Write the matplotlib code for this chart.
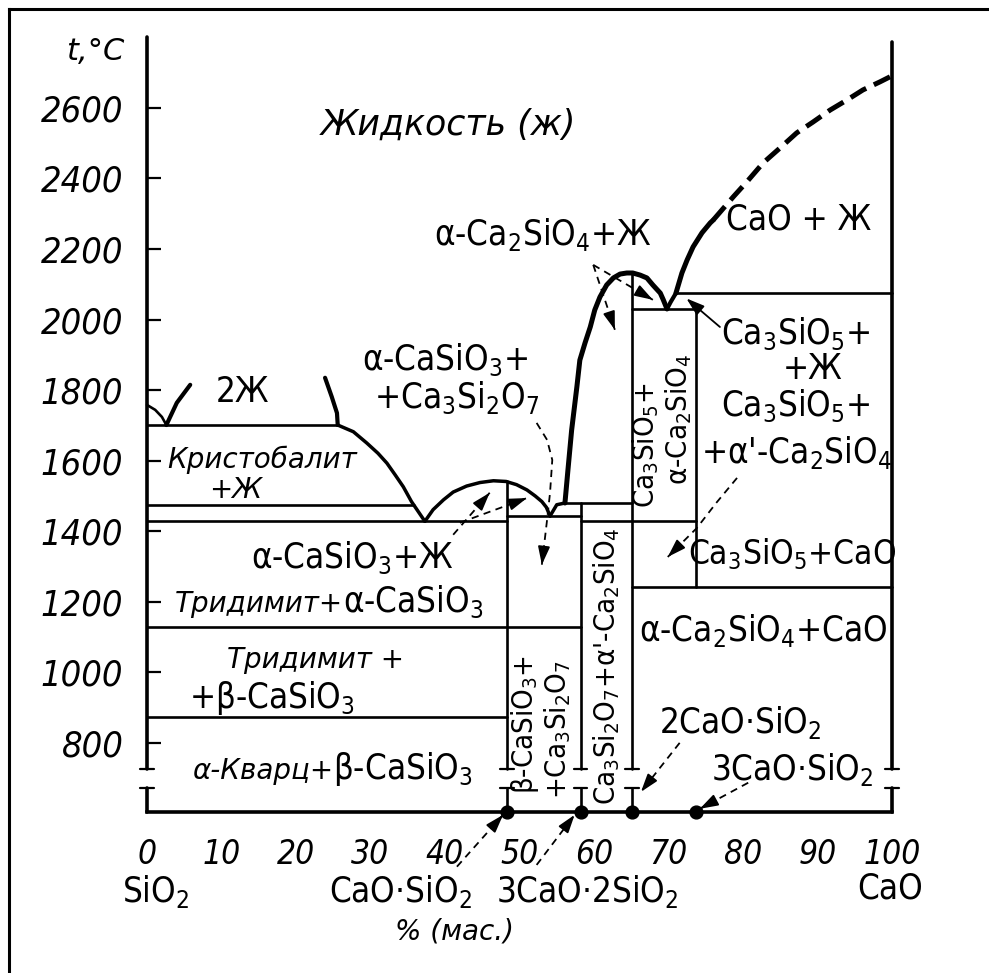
import os
import matplotlib.pyplot as plt
from matplotlib import font_manager
from matplotlib.font_manager import FontProperties
from matplotlib.lines import Line2D

# ---- data: x = % CaO (by mass), t = temperature, °C ----
# SiO2-side liquidus and the two-liquid dome
liq_sio2_x = [0, 1.1, 2.0, 2.6]
liq_sio2_t = [1758, 1744, 1724, 1701]
gap_left_x = [2.6, 4.0, 5.8]
gap_left_t = [1701, 1764, 1815]
gap_right_x = [23.9, 24.8, 25.5, 25.6]
gap_right_t = [1835, 1781, 1735, 1701]
# cristobalite liquidus
crist_x = [25.6, 27.7, 29.5, 31.0, 32.2, 33.3, 34.4, 35.5, 36.4, 37.3]
crist_t = [1701, 1682, 1650, 1621, 1593, 1560, 1526, 1484, 1456, 1428]
# CaSiO3 liquidus
cs_x = [37.3, 38.4, 39.8, 41.1, 42.9, 44.7, 46.5, 48.2, 49.6, 51.0, 52.1, 53.0, 53.6, 54.1]
cs_t = [1428, 1461, 1489, 1511, 1528, 1538, 1543, 1541, 1532, 1517, 1500, 1484, 1468, 1443]
# Ca3Si2O7 liquidus (short)
c3s2_x = [54.1, 55.0, 56.1]
c3s2_t = [1443, 1475, 1480]
# Ca2SiO4 liquidus
c2s_x = [56.1, 56.5, 57.0, 57.7, 58.1, 58.8, 59.5, 60.1, 60.8, 61.7, 62.6, 63.5,
         64.4, 65.2, 66.2, 67.1, 67.9, 68.9, 69.3, 69.8]
c2s_t = [1480, 1573, 1687, 1809, 1885, 1934, 1979, 2027, 2064, 2098, 2118, 2129,
         2132, 2132, 2126, 2118, 2098, 2075, 2056, 2030]
# Ca3SiO5 liquidus, CaO liquidus (solid + dashed part)
c3s_x = [69.8, 70.3, 71.0]
c3s_t = [2030, 2050, 2075]
cao_x = [71.0, 71.8, 72.5, 73.3, 74.5, 75.6, 76.0]
cao_t = [2075, 2132, 2169, 2206, 2246, 2274, 2282]
cao_dash_x = [76.0, 78.7, 80.5, 82.7, 85.0, 87.2, 89.4, 91.7, 94.0, 96.1, 98.4, 100]
cao_dash_t = [2282, 2348, 2390, 2444, 2487, 2529, 2560, 2594, 2623, 2651, 2674, 2691]

# horizontal lines (isotherms): temperature, from x, to x
iso_t = [1701, 1475, 1428, 1129, 874, 1443, 1480, 1428, 2030, 2075, 1242]
iso_from = [0, 0, 0, 0, 0, 48.3, 56.1, 58.2, 65.1, 71.0, 65.1]
iso_to = [25.6, 35.8, 48.3, 58.2, 48.3, 58.2, 65.1, 73.7, 73.7, 100, 100]

# compounds CaO·SiO2, 3CaO·2SiO2, 2CaO·SiO2, 3CaO·SiO2
comp_x = [48.3, 58.2, 65.1, 73.7]
comp_top = [1541, 1480, 2132, 2030]
comp_bottom = [604, 604, 604, 1242]

t_ticks = [800, 1000, 1200, 1400, 1600, 1800, 2000, 2200, 2400, 2600]
x_ticks = [0, 10, 20, 30, 40, 50, 60, 70, 80, 90, 100]
x_small = [10, 20, 30, 40, 70, 80, 90]

T_MIN, T_MAX = 604, 2801
BRK_HI, BRK_LO = 725, 672   # axis break


# narrow font for the formulas if one is installed, else DejaVu Sans a bit smaller
def find_file(names):
    files = {os.path.basename(f.fname): f.fname for f in font_manager.fontManager.ttflist}
    for n in names:
        if n in files:
            return files[n]
    return None

reg = find_file(['LiberationSansNarrow-Regular.ttf', 'DejaVuSansCondensed.ttf',
                 'NotoSans-Condensed.ttf', 'NotoSans-SemiCondensed.ttf',
                 'OpenSans-CondensedRegular.ttf', 'RobotoCondensed-Regular.ttf'])
ita = find_file(['LiberationSansNarrow-Italic.ttf', 'DejaVuSansCondensed-Oblique.ttf',
                 'NotoSans-CondensedItalic.ttf', 'NotoSans-SemiCondensedItalic.ttf',
                 'OpenSans-CondensedItalic.ttf', 'RobotoCondensed-Italic.ttf'])
if reg:
    F_REG = FontProperties(fname=reg)
    SC = 1.0
else:
    F_REG = FontProperties(family='DejaVu Sans')
    SC = 0.82
F_ITA = FontProperties(fname=ita) if ita else FontProperties(family='DejaVu Sans', style='italic')
plt.rcParams['mathtext.default'] = 'regular'

fig = plt.figure(figsize=(9.89, 9.73), dpi=100)
ax = fig.add_axes([147 / 989, 1 - 812 / 973, 745 / 989, 775 / 973])
ax.set_xlim(0, 100)
ax.set_ylim(T_MIN, T_MAX)
for s in ['top', 'left', 'right']:
    ax.spines[s].set_visible(False)
ax.spines['bottom'].set_linewidth(2.6)

K = 'black'

def line(x, t, lw=1.9, **kw):
    ax.plot(x, t, color=K, lw=lw, solid_capstyle='round', clip_on=False, **kw)

# boundaries
line(liq_sio2_x, liq_sio2_t, 1.9)
line(gap_left_x, gap_left_t, 3.0)
line(gap_right_x, gap_right_t, 3.0)
line(crist_x, crist_t, 2.5)
line(cs_x, cs_t, 2.5)
line(c3s2_x, c3s2_t, 2.5)
line(c2s_x, c2s_t, 3.6)
line(c3s_x, c3s_t, 3.0)
line(cao_x, cao_t, 3.6)
ax.plot(cao_dash_x, cao_dash_t, color=K, lw=3.6, dashes=(3.6, 1.7), clip_on=False)
for t, a, b in zip(iso_t, iso_from, iso_to):
    line([a, b], [t, t], 1.9)

# verticals, broken near the bottom
def broken(x, top, lw):
    line([x, x], [top, BRK_HI], lw)
    line([x, x], [BRK_LO, T_MIN], lw)
    line([x - 0.9, x + 0.9], [BRK_HI, BRK_HI], 1.6)
    line([x - 0.9, x + 0.9], [BRK_LO, BRK_LO], 1.6)

broken(0, T_MAX, 2.6)
broken(100, 2787, 2.6)
for x, top, bot in zip(comp_x, comp_top, comp_bottom):
    if bot <= T_MIN:
        broken(x, top, 1.9)
    else:
        line([x, x], [top, bot], 1.9)

ax.scatter(comp_x, [T_MIN] * len(comp_x), s=85, color=K, zorder=6, clip_on=False)

# ticks
ax.set_yticks(t_ticks)
ax.set_yticklabels([str(v) for v in t_ticks], fontproperties=F_ITA, fontsize=26 * SC)
ax.tick_params(axis='y', direction='in', length=10, width=1.6, pad=17)
ax.set_xticks(x_ticks)
ax.set_xticklabels([str(v) for v in x_ticks], fontproperties=F_ITA, fontsize=24 * SC)
ax.set_xticks(x_small, minor=True)
ax.tick_params(axis='x', which='major', length=0, pad=19)
ax.tick_params(axis='x', which='minor', direction='in', length=8, width=1.4)

# labels
def chem(x, t, s, size=25, **kw):
    kw.setdefault('ha', 'center')
    kw.setdefault('va', 'baseline')
    ax.text(x, t, s, fontproperties=F_REG, fontsize=size * SC, **kw)

def rus(x, t, s, size=21, **kw):
    kw.setdefault('ha', 'center')
    kw.setdefault('va', 'baseline')
    ax.text(x, t, s, fontfamily='DejaVu Sans', style='italic', fontsize=size, **kw)

rus(-7.0, 2736, 't,°C', size=22)
rus(40.4, 2523, 'Жидкость (ж)', size=25)
chem(53.2, 2212, 'α-Ca$_2$SiO$_4$+Ж')
chem(87.4, 2254, 'CaO + Ж')
chem(12.8, 1767, '2Ж')
chem(40.0, 1858, 'α-CaSiO$_3$+')
chem(41.6, 1748, '+Ca$_3$Si$_2$O$_7$')
chem(87.1, 1932, 'Ca$_3$SiO$_5$+')
chem(89.4, 1832, '+Ж')
chem(87.1, 1727, 'Ca$_3$SiO$_5$+')
chem(87.2, 1594, "+α'-Ca$_2$SiO$_4$")
rus(15.4, 1579, 'Кристобалит', size=20)
rus(11.9, 1494, '+Ж', size=20)
chem(27.5, 1296, 'α-CaSiO$_3$+Ж')
rus(26.3, 1171, 'Тридимит+', size=20, ha='right')
chem(26.3, 1171, 'α-CaSiO$_3$', ha='left')
rus(22.6, 1013, 'Тридимит +', size=20)
chem(16.8, 899, '+β-CaSiO$_3$')
rus(25.0, 698, 'α-Кварц+', size=20, ha='right')
chem(25.0, 698, 'β-CaSiO$_3$', ha='left')
chem(86.6, 1305, 'Ca$_3$SiO$_5$+CaO', size=24)
chem(82.7, 1089, 'α-Ca$_2$SiO$_4$+CaO')
chem(79.6, 828, '2CaO·SiO$_2$')
chem(86.6, 695, '3CaO·SiO$_2$')
chem(1.2, 349, 'SiO$_2$')
chem(34.0, 349, 'CaO·SiO$_2$')
chem(59.1, 349, '3CaO·2SiO$_2$')
chem(99.7, 358, 'CaO')
rus(41.3, 242, '% (мас.)', size=20)

# rotated labels inside the narrow fields
for x, t, s in [(66.9, 1645, 'Ca$_3$SiO$_5$+'),
                (71.3, 1716, 'α-Ca$_2$SiO$_4$'),
                (50.7, 851, 'β-CaSiO$_3$+'),
                (55.1, 837, '+Ca$_3$Si$_2$O$_7$'),
                (61.7, 1018, "Ca$_3$Si$_2$O$_7$+α'-Ca$_2$SiO$_4$")]:
    chem(x, t, s, size=21, rotation=90, va='center')

# arrows
def head(x0, t0, x1, t1):
    ax.annotate('', xy=(x1, t1), xytext=(x1 - 0.2 * (x1 - x0), t1 - 0.2 * (t1 - t0)),
                arrowprops=dict(arrowstyle='-|>,head_length=0.55,head_width=0.18', color=K,
                                lw=1.3, mutation_scale=20, shrinkA=0, shrinkB=0),
                annotation_clip=False)

def dashed_arrow(xs, ts):
    ax.plot(xs, ts, color=K, lw=1.3, dashes=(4, 3), clip_on=False)
    head(xs[-2], ts[-2], xs[-1], ts[-1])

dashed_arrow([59.9, 62.8], [2155, 1971])
dashed_arrow([59.9, 67.9], [2155, 2056])
dashed_arrow([52.3, 53.7, 54.4, 54.1, 53.7, 53.0], [1707, 1659, 1602, 1509, 1432, 1305])
dashed_arrow([41.1, 46.0], [1390, 1509])
dashed_arrow([42.0, 51.0], [1424, 1494])
dashed_arrow([79.2, 76.4, 73.8, 69.9], [1551, 1480, 1409, 1327])
dashed_arrow([71.5, 66.3], [800, 661])
dashed_arrow([80.7, 74.2], [687, 613])
dashed_arrow([41.6, 47.8], [449, 596])
dashed_arrow([52.3, 57.4], [454, 596])
ax.annotate('', xy=(72.4, 2060), xytext=(76.9, 1979),
            arrowprops=dict(arrowstyle='-|>,head_length=0.55,head_width=0.18', color=K,
                            lw=1.3, mutation_scale=20, shrinkA=0, shrinkB=0))

# page frame (left and top edges only)
fig.add_artist(Line2D([9 / 989, 9 / 989], [0, 1 - 9 / 973], color=K, lw=2.2))
fig.add_artist(Line2D([9 / 989, 1], [1 - 9 / 973, 1 - 9 / 973], color=K, lw=2.2))

fig.savefig('out.png', dpi=100)
